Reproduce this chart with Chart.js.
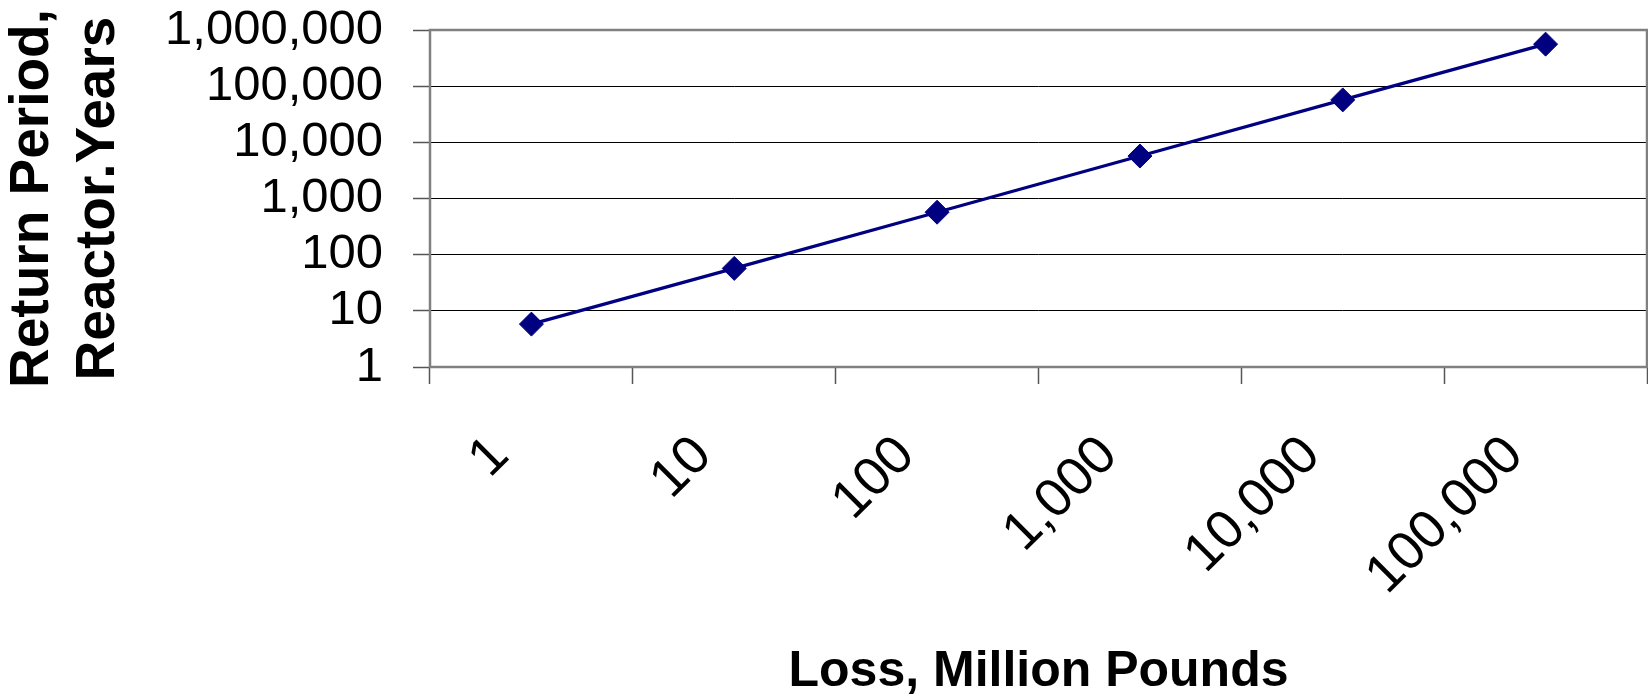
<!DOCTYPE html>
<html>
<head>
<meta charset="utf-8">
<script src="https://cdn.jsdelivr.net/npm/chart.js@4.4.1/dist/chart.umd.min.js"></script>
<style>
  html, body { margin: 0; padding: 0; background: #ffffff; overflow: hidden; }
  #wrap { width: 1648px; height: 699px; position: relative; }
</style>
</head>
<body>
<div id="wrap"><canvas id="chart"></canvas></div>
<script>
// Loss categories (million pounds) and the matching return periods (reactor-years)
const lossLabels = ['1', '10', '100', '1,000', '10,000', '100,000'];
const returnPeriods = [5.8, 57, 570, 5700, 57000, 560000];
const yTickValues = [1, 10, 100, 1000, 10000, 100000, 1000000];
const xTitleText = 'Loss, Million Pounds';
const yTitleLines = ['Return Period,', 'Reactor.Years'];

// Use the narrow face for the x title when it is installed
function fontInstalled(name) {
  const ctx = document.createElement('canvas').getContext('2d');
  const probe = 'Loss, Million Pounds';
  ctx.font = 'bold 60px monospace';
  const base = ctx.measureText(probe).width;
  ctx.font = 'bold 60px "' + name + '", monospace';
  return ctx.measureText(probe).width !== base;
}
const narrow = fontInstalled('Liberation Sans Narrow');
const xTitleFont = narrow
  ? { family: '"Liberation Sans Narrow"', size: 60, weight: 'bold', lineHeight: 1 }
  : { family: '"Liberation Sans", Arial, sans-serif', size: 50, weight: 'bold', lineHeight: 1 };

Chart.defaults.color = '#000000';
Chart.defaults.font.family = '"Liberation Sans", Arial, sans-serif';

// Grey frame round the plot area
const plotFrame = {
  id: 'plotFrame',
  beforeDatasetsDraw(chart) {
    const { ctx, chartArea: a } = chart;
    ctx.save();
    ctx.strokeStyle = '#808080';
    ctx.lineWidth = 2.5;
    ctx.strokeRect(a.left, a.top, a.right - a.left, a.bottom - a.top);
    ctx.restore();
  }
};

new Chart(document.getElementById('chart'), {
  type: 'line',
  data: {
    labels: lossLabels,
    datasets: [{
      data: returnPeriods,
      borderColor: '#000080',
      backgroundColor: '#000080',
      borderWidth: 3.2,
      tension: 0,
      pointStyle: 'rectRot',
      pointRadius: 12,
      pointBackgroundColor: '#000080',
      pointBorderColor: '#000080',
      pointBorderWidth: 1
    }]
  },
  options: {
    responsive: true,
    maintainAspectRatio: false,
    animation: false,
    layout: { autoPadding: false, padding: { top: 30, right: 1, left: 0, bottom: 0 } },
    plugins: { legend: { display: false }, tooltip: { enabled: false } },
    scales: {
      x: {
        type: 'category',
        offset: true,
        grid: { display: true, drawOnChartArea: false, offset: true, tickLength: 17, tickColor: '#555555', tickWidth: 1.5 },
        border: { display: false },
        ticks: {
          autoSkip: false, minRotation: 45, maxRotation: 45,
          padding: 40, labelOffset: -31,
          font: { size: 54 }, color: '#000000'
        },
        title: { display: true, text: xTitleText, font: xTitleFont, color: '#000000', padding: { top: 0, bottom: 2 } },
        afterFit(scale) {
          scale.height = 332;
          scale.paddingLeft = 0;
          scale.paddingRight = 0;
        }
      },
      y: {
        type: 'logarithmic',
        min: 1,
        max: 1000000,
        afterBuildTicks(scale) { scale.ticks = yTickValues.map(v => ({ value: v })); },
        ticks: {
          autoSkip: false,
          padding: 30,
          font: { size: 49 },
          color: '#000000',
          callback: (v) => Number(v).toLocaleString('en-US')
        },
        grid: { color: '#000000', lineWidth: 1, tickLength: 17, tickColor: '#555555', tickWidth: 1.5 },
        border: { display: false },
        title: {
          display: true, text: yTitleLines, color: '#000000',
          font: { size: 55, weight: 'bold', lineHeight: 1.2 },
          padding: { top: 0, bottom: 0 }
        },
        afterFit(scale) {
          scale.width = 430;
          scale.paddingTop = 0;
          scale.paddingBottom = 0;
        }
      }
    }
  },
  plugins: [plotFrame]
});
</script>
</body>
</html>
